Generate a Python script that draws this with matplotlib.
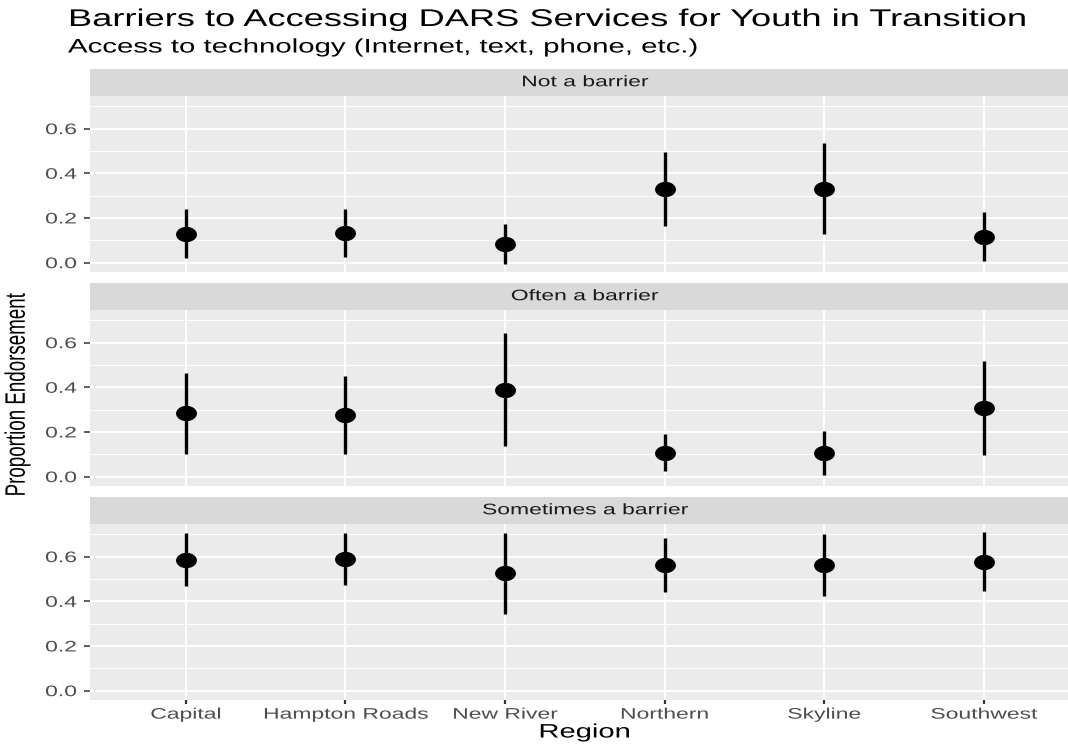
#!/usr/bin/env python3
"""
Faceted point + interval chart: barriers to accessing DARS services.
The reference picture is stretched sideways, so text glyphs and points
are widened by the same factor when drawn.
"""
import matplotlib
matplotlib.use("Agg")
import matplotlib.pyplot as plt
from matplotlib.path import Path
from matplotlib.patheffects import AbstractPathEffect
from matplotlib.transforms import Affine2D
from matplotlib.ticker import MultipleLocator
import numpy as np

plt.rcParams['font.family'] = ['Liberation Sans', 'DejaVu Sans']

# Data
regions = ['Capital', 'Hampton Roads', 'New River', 'Northern', 'Skyline', 'Southwest']
facets = ['Not a barrier', 'Often a barrier', 'Sometimes a barrier']

not_est = [0.128, 0.131, 0.084, 0.330, 0.330, 0.116]
not_lo = [0.020, 0.024, -0.006, 0.164, 0.127, 0.007]
not_hi = [0.240, 0.240, 0.173, 0.497, 0.534, 0.227]

often_est = [0.284, 0.278, 0.390, 0.104, 0.104, 0.307]
often_lo = [0.103, 0.103, 0.139, 0.024, 0.009, 0.099]
often_hi = [0.464, 0.451, 0.643, 0.190, 0.203, 0.516]

some_est = [0.587, 0.590, 0.526, 0.563, 0.561, 0.575]
some_lo = [0.469, 0.475, 0.345, 0.443, 0.425, 0.444]
some_hi = [0.704, 0.704, 0.707, 0.685, 0.701, 0.710]

estimates = [not_est, often_est, some_est]
lowers = [not_lo, often_lo, some_lo]
uppers = [not_hi, often_hi, some_hi]

SX = 1.5  # horizontal stretch of the reference


class StretchX(AbstractPathEffect):
    """Widen a text's glyphs around a fixed x (display pixels)."""
    def __init__(self, sx, x0):
        super().__init__()
        self.sx = sx
        self.x0 = x0

    def draw_path(self, renderer, gc, tpath, affine, rgbFace=None):
        t = affine + Affine2D().translate(-self.x0, 0).scale(self.sx, 1).translate(self.x0, 0)
        renderer.draw_path(gc, tpath, t, rgbFace)


# wide ellipse used as point marker
theta = np.linspace(0, 2 * np.pi, 60)
ellipse = Path(np.column_stack([1.4 * np.cos(theta), np.sin(theta)]), closed=True)

# Figure layout in pixels (ggplot-like facet_wrap with one column)
W, H = 1068, 745
fig = plt.figure(figsize=(W / 100, H / 100), dpi=100)
fig.patch.set_facecolor('white')

left_px, right_px = 90, 1079.5
panels_px = [(96, 272), (310, 486), (524, 700)]  # top, bottom
strip_h = 27.5
ytick_len, ytick_pad = 4.5, 5.0
xtick_len, xtick_pad = 3.0, 2.5

x = list(range(len(regions)))

for i, (top, bottom) in enumerate(panels_px):
    ax = fig.add_axes([left_px / W, 1 - bottom / H,
                       (right_px - left_px) / W, (bottom - top) / H])
    ax.set_facecolor('#EBEBEB')
    for s in ax.spines.values():
        s.set_visible(False)

    ax.set_xlim(-0.6, len(regions) - 0.4)
    ax.set_ylim(-0.042, 0.746)
    ax.yaxis.set_minor_locator(MultipleLocator(0.1))
    ax.set_yticks([0.0, 0.2, 0.4, 0.6])
    ax.set_yticklabels(['0.0', '0.2', '0.4', '0.6'])
    ax.grid(True, which='major', color='white', linewidth=1.4)
    ax.grid(True, which='minor', axis='y', color='white', linewidth=0.7)
    ax.set_axisbelow(True)
    ax.tick_params(axis='y', which='major', length=ytick_len, width=1.1, color='#333333',
                   labelsize=11, labelcolor='#4D4D4D', pad=ytick_pad)
    ax.tick_params(axis='y', which='minor', length=0)
    ax.set_xticks(x)
    if i == len(panels_px) - 1:
        ax.set_xticklabels(regions)
        ax.tick_params(axis='x', length=xtick_len, width=1.6, color='#333333',
                       labelsize=11, labelcolor='#4D4D4D', pad=xtick_pad)
        for k, lab in enumerate(ax.get_xticklabels()):
            x0 = ax.transData.transform((x[k], 0))[0]
            lab.set_path_effects([StretchX(SX, x0)])
    else:
        ax.tick_params(axis='x', length=0, labelbottom=False)

    ylab_x0 = left_px - (ytick_len + ytick_pad) * 100 / 72
    for lab in ax.get_yticklabels():
        lab.set_path_effects([StretchX(SX, ylab_x0)])

    # intervals and points
    ax.vlines(x, lowers[i], uppers[i], color='black', linewidth=2.4, zorder=3)
    ax.plot(x, estimates[i], linestyle='none', marker=ellipse, color='black',
            markersize=14, zorder=4)

    # facet strip
    sax = fig.add_axes([left_px / W, 1 - top / H,
                        (right_px - left_px) / W, strip_h / H])
    sax.set_facecolor('#D9D9D9')
    sax.set_xticks([])
    sax.set_yticks([])
    for s in sax.spines.values():
        s.set_visible(False)
    st = sax.text(0.5, 0.5, facets[i], ha='center', va='center', fontsize=11,
                  color='#1A1A1A', transform=sax.transAxes)
    st.set_path_effects([StretchX(SX, (left_px + right_px) / 2)])

# Titles
t1 = fig.text(68 / W, 1 - 20 / H, 'Barriers to Accessing DARS Services for Youth in Transition',
              ha='left', va='center', fontsize=17.4, color='black')
t1.set_path_effects([StretchX(SX, 68)])
t2 = fig.text(68 / W, 1 - 47 / H, 'Access to technology (Internet, text, phone, etc.)',
              ha='left', va='center', fontsize=14.1, color='black')
t2.set_path_effects([StretchX(SX, 68)])
t3 = fig.text(18 / W, 1 - 395 / H, 'Proportion Endorsement', rotation=90,
              ha='center', va='center', fontsize=13.5, color='black')
t3.set_path_effects([StretchX(SX, 18)])
t4 = fig.text(585 / W, 1 - 733 / H, 'Region', ha='center', va='center',
              fontsize=14, color='black')
t4.set_path_effects([StretchX(SX, 585)])

plt.savefig('out.png', dpi=100)
